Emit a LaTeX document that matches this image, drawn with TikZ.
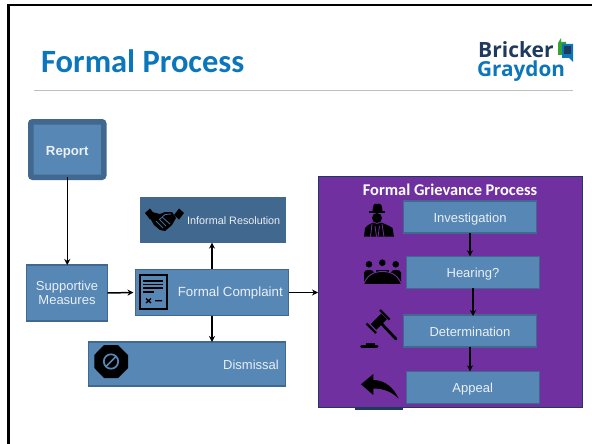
\documentclass[tikz,border=0pt]{standalone}
\usepackage{fontspec}
\setmainfont{Liberation Sans}
\newfontfamily\titlefont{Carlito}
\newfontfamily\logofont{Open Sans}
\usetikzlibrary{arrows.meta}
\definecolor{boxblue}{HTML}{5687B5}
\definecolor{boxedge}{HTML}{41688F}
\definecolor{softwhite}{HTML}{EAF0F6}
\definecolor{grape}{HTML}{7030A0}
\definecolor{navy}{HTML}{1F3A5F}
\definecolor{titleblue}{HTML}{0B76BC}
\newcommand{\lowered}[1]{\raisebox{-5.6pt}[0pt][0pt]{#1}}
\tikzset{
  box/.style={draw=boxedge,fill=boxblue,line width=1.2pt,inner sep=0pt,outer sep=0pt,text=softwhite,font=\fontsize{13}{15}\selectfont,align=center},
  label text/.style={inner sep=0pt,text=softwhite,font=\fontsize{13.3}{15}\selectfont,align=center},
  conn/.style={draw=black,line width=1.5pt,-{Stealth[length=6pt,width=6pt]}},
}
\begin{document}
\begin{tikzpicture}[x=1pt,y=-1pt]
\useasboundingbox (0,0) rectangle (592,444);
\fill[white] (0,0) rectangle (592,444);
% slide frame
\draw[line width=2.6pt,black] (8.5,444) -- (8.5,5) -- (592,5);
% title
\node[anchor=base west,inner sep=0pt,text=titleblue,font=\titlefont\bfseries\fontsize{32.5}{34}\selectfont] (title) at (41,72.5) {Formal Process};
\draw[line width=1.4pt,color=black!25] (34,90.5) -- (573,90.5);
% logo
\node[anchor=base west,inner sep=0pt,text=navy,font=\logofont\bfseries\fontsize{21}{22}\selectfont] (bricker) at (478,58) {Bricker};
\node[anchor=base west,inner sep=0pt,text=titleblue,font=\logofont\bfseries\fontsize{20.7}{22}\selectfont] (graydon) at (477,77) {Graydon};
\fill[color=green!55!black!80!white] (558,43) -- (561,38) -- (561,42) -- (566,42) -- (566,55) -- (558,55) -- cycle;
\fill[titleblue] (562,44) -- (573,44) -- (573,62) -- (569,58) -- (562,58) -- cycle;
\fill[navy] (563.5,46) -- (571,46) -- (571,54) -- (563.5,54) -- cycle;
% left nodes
\node[box,draw=boxedge,line width=5.5pt,rounded corners=2pt,minimum width=73pt,minimum height=55.5pt,font=\bfseries\fontsize{13.2}{15}\selectfont] (report) at (67.25,149.5) {\lowered{Report}};
\node[box,minimum width=81pt,minimum height=56pt] (support) at (67,293) {Supportive\\[-0.5pt]Measures};
\node[box,fill=boxedge,draw=none,minimum width=146pt,minimum height=45.5pt] (informal) at (213,219.8) {};
\node[label text,anchor=west,font=\fontsize{10.8}{13}\selectfont] (informaltext) at (187,220.8) {Informal Resolution};
\node[box,minimum width=153pt,minimum height=46.5pt] (complaint) at (212,292.5) {};
\node[label text,anchor=east] (complainttext) at (283,293.3) {Formal Complaint};
\node[box,minimum width=197pt,minimum height=44pt] (dismissal) at (187,364) {};
\node[label text,anchor=east,font=\fontsize{13}{15}\selectfont] (dismissaltext) at (279,365) {Dismissal};
% purple panel
\node[box,draw=navy,fill=grape,line width=1pt,minimum width=264pt,minimum height=231pt] (panel) at (450,292.2) {};
\fill[navy] (355,407.5) rectangle (403,409.5);
\node[inner sep=0pt,text=white,font=\titlefont\bfseries\fontsize{16.4}{18}\selectfont] (paneltitle) at (450,190) {Formal Grievance Process};
\node[box,minimum width=133pt,minimum height=32pt] (invest) at (470,217) {\lowered{Investigation}};
\node[box,minimum width=133pt,minimum height=32pt] (hearing) at (473,272.3) {\lowered{Hearing?}};
\node[box,minimum width=133pt,minimum height=32pt] (determ) at (470,331) {\lowered{Determination}};
\node[box,minimum width=133pt,minimum height=32pt] (appeal) at (472.7,387.3) {\lowered{Appeal}};
% connectors
\draw[conn] (report.south) -- (report.south |- support.north);
\draw[conn] (support.east) -- ([xshift=-2pt]complaint.west);
\draw[conn] (complaint.north) -- (complaint.north |- informal.south);
\draw[conn] (complaint.south) -- (complaint.south |- dismissal.north);
\draw[conn] (complaint.east) -- (panel.west |- complaint.east);
\draw[conn] (invest.south) -- (invest.south |- hearing.north);
\draw[conn] (hearing.south) -- ([yshift=-1pt]hearing.south |- determ.north);
\draw[conn] (determ.south) -- (determ.south |- appeal.north);
% handshake icon
\fill[black] (145,213) -- (150,208.5) -- (155,215) -- (150,219.5) -- cycle;
\fill[black] (174,215) -- (179,208.5) -- (184,213) -- (179,219.5) -- cycle;
\fill[black] (152,212) -- (160,214) -- (165,212) -- (172,212) -- (176,218) -- (172,225) -- (165,231) -- (160,230) -- (154,225) -- (150,218) -- cycle;
\draw[boxedge,line width=0.9pt] (156,221) -- (163,228) (159,219) -- (166,226) (162,217) -- (170,224) (160,219) -- (165,214.5) -- (171,214);
% document icon
\draw[black,line width=2pt] (140.3,275.3) rectangle (167.3,309);
\draw[black,line width=1.3pt] (143,281) -- (163,281) (143,284.5) -- (163,284.5) (143,288) -- (163,288);
\draw[black,line width=1.3pt] (143,292) -- (154,292);
\draw[black,line width=1.3pt] (146,298.5) -- (151,303) (151,298.5) -- (146,303) (155,300.7) -- (162,300.7);
% no-entry icon
\fill[black] (104,345) -- (118,345) -- (128,355) -- (128,368) -- (118,378) -- (104,378) -- (94.3,368) -- (94.3,355) -- cycle;
\draw[boxblue,line width=1.7pt] (111,361.5) circle (7.2pt);
\draw[boxblue,line width=1.7pt] (106,366.5) -- (116,356.5);
% spy icon
\fill[black] (372.5,211) .. controls (373,205) and (374,203) .. (376,203.5) -- (377,204.5) -- (378.5,203.5) .. controls (381,203) and (382,205) .. (382.5,211) -- cycle;
\fill[black] (368.5,211) rectangle (385,212.8);
\fill[black] (377,218) circle (5pt);
\fill[black] (364,236.7) -- (365,228) .. controls (367,225) and (370,224) .. (373,222.5) -- (377,224) -- (381,222.5) .. controls (385,224) and (390,226) .. (392.5,228) -- (394,236.7) -- cycle;
\draw[grape,line width=0.8pt] (372,224) -- (370.5,236.7) (382,224) -- (384,236.7) (375,226) -- (376.5,236.7) (379.5,226) -- (378,236.7);
% meeting icon
\fill[black] (369,264.3) circle (3.3pt) (382.3,262.7) circle (3.3pt) (395.7,264.3) circle (3.3pt);
\fill[black] (364,284) -- (364,272.5) .. controls (364,269) and (374,269) .. (374,272.5) -- (374,284) -- cycle;
\fill[black] (391,284) -- (391,272.5) .. controls (391,269) and (401,269) .. (401,272.5) -- (401,284) -- cycle;
\fill[black] (376,270) rectangle (389,275);
\filldraw[fill=black,draw=grape,line width=0.9pt] (363.5,284.5) .. controls (367,275) and (374,271.5) .. (382.5,271.5) .. controls (391,271.5) and (398,275) .. (401.5,284.5) -- cycle;
% gavel icon
\draw[black,line width=8pt] (373.5,327) -- (384,316.5);
\draw[black,line width=2.4pt] (366.5,323.5) -- (376,333) (380,310) -- (389.5,319.5);
\draw[black,line width=2.8pt,line cap=round] (380,322) -- (396,339);
\fill[black] (366,345) rectangle (375,342.5);
\draw[black,line width=3pt,line cap=round] (361.5,346) -- (377,346);
% reply arrow icon
\fill[black] (361,384.3) -- (373.3,374) -- (373.3,380) .. controls (385,380) and (394,388) .. (398.5,398.5) .. controls (392,392) and (384,388.5) .. (373.3,388.5) -- (373.3,395) -- cycle;
\end{tikzpicture}
\end{document}
